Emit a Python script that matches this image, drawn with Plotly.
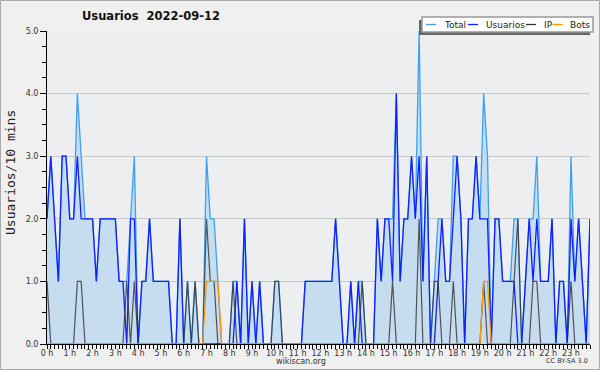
import plotly.graph_objects as go

# ---------------- data (10-minute slots, 0h .. 23h50) ----------------
hour_labels = [f"{h} h" for h in range(24)]

total = [
    2, 3, 2, 1, 3, 3, 2, 2, 4, 3,
    2, 2, 2, 1, 2, 2, 2, 2, 2, 1,
    1, 1, 2, 3, 0, 1, 1, 2, 1, 1,
    1, 1, 1, 0, 0, 2, 0, 1, 0, 1,
    0, 0, 3, 2, 2, 1, 0, 0, 0, 1,
    1, 0, 2, 0, 1, 0, 1, 0, 0, 0,
    1, 1, 0, 0, 0, 0, 0, 0, 1, 1,
    1, 1, 1, 1, 1, 1, 2, 1, 0, 0,
    1, 0, 1, 1, 0, 0, 0, 2, 1, 2,
    2, 2, 4, 1, 2, 2, 3, 2, 5, 1,
    3, 0, 1, 2, 2, 1, 1, 3, 3, 2,
    0, 2, 2, 3, 2, 4, 3, 0, 2, 2,
    1, 1, 1, 2, 2, 0, 1, 2, 2, 3,
    1, 1, 1, 2, 0, 1, 1, 0, 3, 1,
    2, 1, 0, 2,
]

usuarios = [
    2, 3, 2, 1, 3, 3, 2, 2, 3, 2,
    2, 2, 2, 1, 2, 2, 2, 2, 2, 1,
    1, 0, 2, 2, 0, 1, 1, 2, 1, 1,
    1, 1, 1, 0, 0, 2, 0, 0, 0, 0,
    0, 0, 0, 0, 0, 0, 0, 0, 0, 0,
    1, 0, 2, 0, 1, 0, 1, 0, 0, 0,
    0, 0, 0, 0, 0, 0, 0, 0, 1, 1,
    1, 1, 1, 1, 1, 1, 2, 1, 0, 0,
    1, 0, 1, 0, 0, 0, 0, 2, 1, 2,
    2, 1, 4, 1, 2, 2, 3, 2, 3, 1,
    3, 0, 0, 1, 2, 1, 1, 2, 3, 2,
    0, 2, 2, 3, 2, 2, 2, 0, 2, 2,
    1, 1, 1, 1, 0, 0, 1, 2, 1, 2,
    1, 1, 1, 2, 0, 1, 1, 0, 2, 1,
    2, 1, 0, 2,
]

ip = [
    1, 0, 0, 0, 0, 0, 0, 0, 1, 1,
    0, 0, 0, 0, 0, 0, 0, 0, 0, 0,
    0, 1, 0, 1, 0, 0, 0, 0, 0, 0,
    0, 0, 0, 0, 0, 0, 0, 1, 0, 1,
    0, 0, 2, 1, 1, 0, 0, 0, 0, 1,
    0, 0, 0, 0, 0, 0, 0, 0, 0, 0,
    1, 1, 0, 0, 0, 0, 0, 0, 0, 0,
    0, 0, 0, 0, 0, 0, 0, 0, 0, 0,
    0, 0, 0, 1, 0, 0, 0, 0, 0, 0,
    0, 1, 0, 0, 0, 0, 0, 0, 2, 0,
    0, 0, 1, 1, 0, 0, 0, 1, 0, 0,
    0, 0, 0, 0, 0, 1, 0, 0, 0, 0,
    0, 0, 0, 1, 2, 0, 0, 0, 1, 1,
    0, 0, 0, 0, 0, 0, 0, 0, 1, 0,
    0, 0, 0, 0,
]

bots = [
    0, 0, 0, 0, 0, 0, 0, 0, 0, 0,
    0, 0, 0, 0, 0, 0, 0, 0, 0, 0,
    0, 0, 0, 0, 0, 0, 0, 0, 0, 0,
    0, 0, 0, 0, 0, 0, 0, 0, 0, 0,
    0, 0, 1, 1, 1, 1, 0, 0, 0, 0,
    0, 0, 0, 0, 0, 0, 0, 0, 0, 0,
    0, 0, 0, 0, 0, 0, 0, 0, 0, 0,
    0, 0, 0, 0, 0, 0, 0, 0, 0, 0,
    0, 0, 0, 0, 0, 0, 0, 0, 0, 0,
    0, 0, 0, 0, 0, 0, 0, 0, 0, 0,
    0, 0, 0, 0, 0, 0, 0, 0, 0, 0,
    0, 0, 0, 0, 0, 1, 1, 0, 0, 0,
    0, 0, 0, 0, 0, 0, 0, 0, 0, 0,
    0, 0, 0, 0, 0, 0, 0, 0, 0, 0,
    0, 0, 0, 0,
]

slots = list(range(len(total)))

# ---------------- styling ----------------
W, H = 600, 370
L, R, T, B = 47, 590, 31, 344
C_TOTAL = "rgb(62,160,240)"
C_FILL = "rgb(198,221,240)"
C_USERS = "rgb(16,32,255)"
C_IP = "rgb(50,50,50)"
C_BOTS = "rgb(255,150,0)"
FONT = "DejaVu Sans"


def px(x):
    return (x - L) / (R - L)


def py(y):
    return (B - y) / (B - T)


fig = go.Figure()
fig.add_trace(go.Scatter(x=slots, y=total, mode="lines", name="Total",
                         line=dict(color=C_TOTAL, width=1.3),
                         fill="tozeroy", fillcolor=C_FILL))
fig.add_trace(go.Scatter(x=slots, y=usuarios, mode="lines", name="Usuarios",
                         line=dict(color=C_USERS, width=1.3)))
fig.add_trace(go.Scatter(x=slots, y=ip, mode="lines", name="IP",
                         line=dict(color=C_IP, width=1.2), opacity=0.8))
fig.add_trace(go.Scatter(x=slots, y=bots, mode="lines", name="Bots",
                         line=dict(color=C_BOTS, width=1.3)))

shapes = []
annotations = []

# outer border
shapes.append(dict(type="rect", xref="paper", yref="paper",
                   x0=px(0.5), x1=px(599.5), y0=py(369.5), y1=py(0.5),
                   line=dict(color="#aaaaaa", width=1), layer="below"))

# legend (drawn manually)
shapes.append(dict(type="rect", xref="paper", yref="paper",
                   x0=px(419), x1=px(590), y0=py(35), y1=py(20),
                   fillcolor="#666666", line=dict(width=0), layer="above"))
shapes.append(dict(type="rect", xref="paper", yref="paper",
                   x0=px(422), x1=px(593), y0=py(32), y1=py(17),
                   fillcolor="white", line=dict(color="#999999", width=1.5), layer="above"))
legend_items = [("Total", C_TOTAL, 426, 442), ("Usuarios", C_USERS, 468, 484),
                ("IP", C_IP, 526, 542), ("Bots", C_BOTS, 552.5, 568)]
for name, col, lx, tx in legend_items:
    shapes.append(dict(type="line", xref="paper", yref="paper",
                       x0=px(lx), x1=px(lx + 10), y0=py(24.5), y1=py(24.5),
                       line=dict(color=col, width=1.3), layer="above"))
    annotations.append(dict(text=name, xref="paper", yref="paper",
                            x=px(tx), y=py(24.5), xanchor="left", yanchor="middle",
                            showarrow=False, font=dict(family=FONT, size=9, color="#222")))

# title
annotations.append(dict(text="<b>Usuarios\u00a0\u00a02022-09-12</b>", xref="paper", yref="paper",
                        x=px(151), y=py(16.5), xanchor="center", yanchor="middle",
                        showarrow=False, font=dict(family=FONT, size=11.5, color="#111")))
# y-axis title
annotations.append(dict(text="Usuarios/10 mins", xref="paper", yref="paper",
                        x=px(10), y=py(173), xanchor="center", yanchor="middle",
                        textangle=-90, showarrow=False,
                        font=dict(family="DejaVu Sans Mono", size=13, color="#222")))
# footer
annotations.append(dict(text="wikiscan.org", xref="paper", yref="paper",
                        x=px(300.5), y=py(361.5), xanchor="center", yanchor="middle",
                        showarrow=False, font=dict(family=FONT, size=8, color="#333")))
annotations.append(dict(text="CC BY-SA 3.0", xref="paper", yref="paper",
                        x=px(589.5), y=py(361.5), xanchor="right", yanchor="middle",
                        showarrow=False, font=dict(family=FONT, size=6.5, color="#333")))

fig.update_layout(
    width=W, height=H,
    margin=dict(l=L, r=W - R, t=T, b=H - B, pad=0),
    paper_bgcolor="#f0f0f0",
    plot_bgcolor="#eceef0",
    showlegend=False,
    shapes=shapes,
    annotations=annotations,
    xaxis=dict(
        range=[0, len(total) - 1],
        tickmode="array",
        tickvals=[h * 6 for h in range(24)],
        ticktext=hour_labels,
        ticks="outside", ticklen=4, tickcolor="black", tickwidth=1,
        ticklabelstandoff=-3,
        minor=dict(tickmode="array", tickvals=slots, ticks="outside",
                   ticklen=4, tickcolor="black", tickwidth=1),
        showline=True, linecolor="black", linewidth=1,
        showgrid=False, zeroline=False,
        tickfont=dict(family=FONT, size=8, color="#333"),
        fixedrange=True,
    ),
    yaxis=dict(
        range=[0, 5],
        tickmode="array",
        tickvals=[0, 1, 2, 3, 4, 5],
        ticktext=["0.0", "1.0", "2.0", "3.0", "4.0", "5.0"],
        ticks="outside", ticklen=6, tickcolor="black", tickwidth=1,
        minor=dict(dtick=0.25, tick0=0, ticks="outside", ticklen=4,
                   tickcolor="black", tickwidth=1, showgrid=False),
        showline=True, linecolor="black", linewidth=1,
        showgrid=True, gridcolor="#c8c8c8", gridwidth=1,
        zeroline=False,
        tickfont=dict(family=FONT, size=8, color="#333"),
        fixedrange=True,
    ),
)

fig.write_html("out.html")
